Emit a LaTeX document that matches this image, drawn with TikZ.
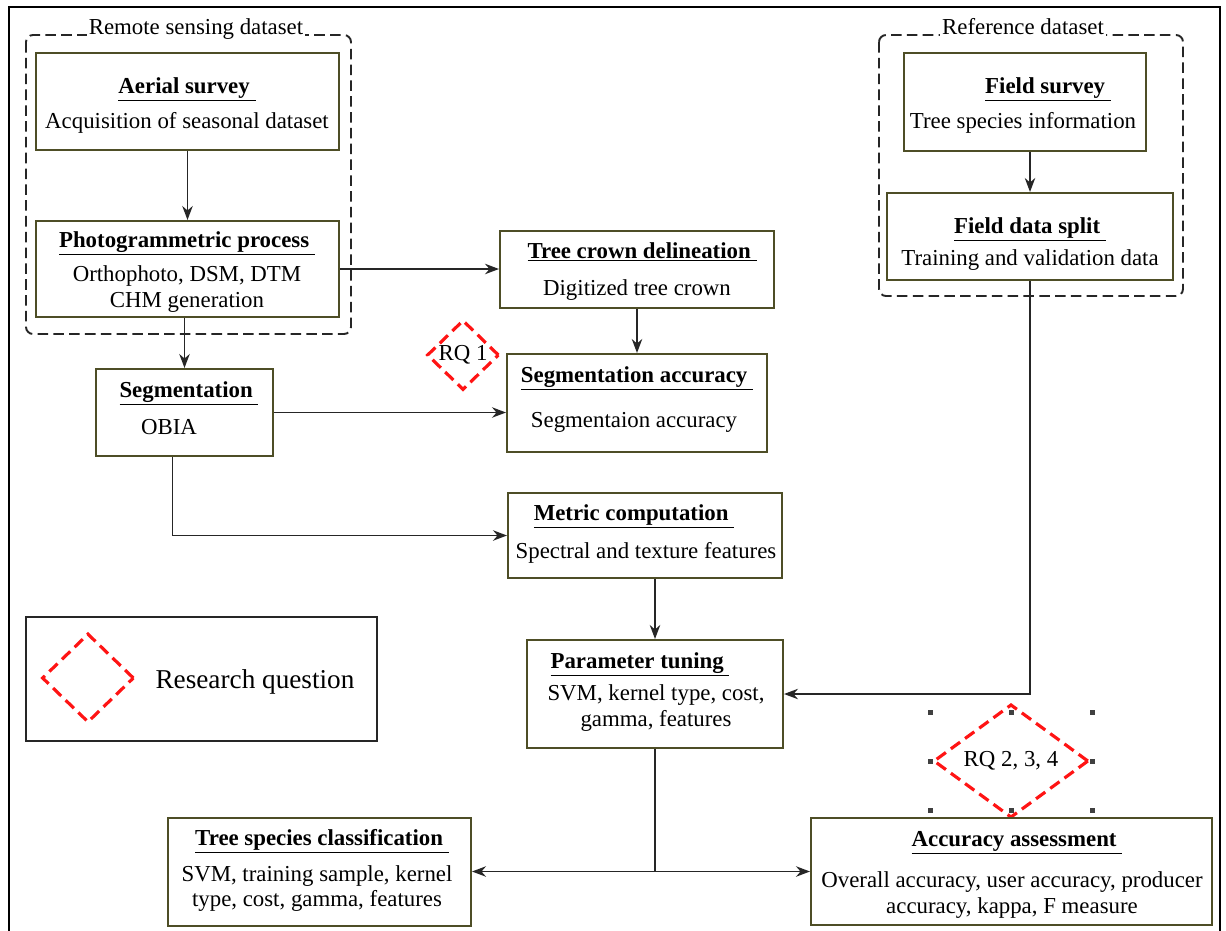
\documentclass[tikz,border=0pt]{standalone}
\usepackage{fontspec}
\setmainfont{Liberation Serif}
\usetikzlibrary{arrows.meta,shapes.geometric}
\definecolor{boxline}{RGB}{78,78,38}
\definecolor{rqred}{RGB}{255,20,20}
\newcommand{\headline}[1]{\underline{#1~}}
\tikzset{
flowbox/.style={
  draw=boxline,
  line width=1.2pt,
  fill=white,
  inner sep=0pt
},
boxtitle/.style={
  anchor=base,
  inner sep=0pt,
  font=\fontsize{13}{15}\selectfont\bfseries
},
boxtext/.style={
  inner sep=0pt,
  align=center,
  font=\fontsize{13}{14.6}\selectfont
},
groupbox/.style={
  draw=black!85,
  line width=1.1pt,
  dash pattern=on 6pt off 3pt,
  rounded corners=4pt
},
grouplabel/.style={
  anchor=base,
  fill=white,
  inner sep=1pt,
  font=\fontsize{13}{15}\selectfont
},
rqmark/.style={
  shape=diamond,
  draw=rqred,
  line width=1.8pt,
  dash pattern=on 6.5pt off 3.5pt,
  inner sep=0pt,
  font=\fontsize{13}{15}\selectfont
},
flowline/.style={
  line width=0.8pt,
  draw=black!85
},
flowarrow/.style={
  -{Stealth[length=2.8mm,width=2.1mm]},
  line width=0.8pt,
  draw=black!85
}
}

\begin{document}
\begin{tikzpicture}[x=0.02cm,y=-0.02cm]
\useasboundingbox (0,0) rectangle (1226,930);
\draw[line width=1.4pt] (9,960) -- (9,7) -- (1220,7) -- (1220,960);

\draw[groupbox] (26,35) rectangle (351,334);
\node[grouplabel] (rslabel) at (196,34) {Remote sensing dataset};
\draw[groupbox] (879,35) rectangle (1183,296);
\node[grouplabel] (reflabel) at (1023,34) {Reference dataset};

\node[flowbox, minimum width=6.06cm, minimum height=1.94cm] (aerial) at (187.5,101.5) {};
\node[boxtitle] (aerialT) at (187,93) {\headline{Aerial survey}};
\node[boxtext, anchor=base] (aerialB) at (187,128) {Acquisition of seasonal dataset};

\node[flowbox, minimum width=6.06cm, minimum height=1.92cm] (photo) at (187.5,269) {};
\node[boxtitle] (photoT) at (187,247) {\headline{Photogrammetric process}};
\node[boxtext] (photoB) at (187,289) {Orthophoto, DSM, DTM\\CHM generation};

\node[flowbox, minimum width=5.48cm, minimum height=1.54cm] (crown) at (637,269.5) {};
\node[boxtitle] (crownT) at (642,258) {\headline{Tree crown delineation}};
\node[boxtext, anchor=base] (crownB) at (637,295) {Digitized tree crown};

\node[flowbox, minimum width=3.54cm, minimum height=1.74cm] (seg) at (184.5,412.5) {};
\node[boxtitle] (segT) at (189,397) {\headline{Segmentation}};
\node[boxtext, anchor=base] (segB) at (169,434) {OBIA};

\node[flowbox, minimum width=5.2cm, minimum height=1.96cm] (segacc) at (637,403) {};
\node[boxtitle] (segaccT) at (637,382) {\headline{Segmentation accuracy}};
\node[boxtext, anchor=base] (segaccB) at (634,427) {Segmentaion accuracy};

\node[rqmark, minimum width=1.44cm, minimum height=1.4cm] (rq1) at (463,355) {RQ 1};

\node[flowbox, minimum width=5.48cm, minimum height=1.7cm] (metric) at (645,535.5) {};
\node[boxtitle] (metricT) at (634,520) {\headline{Metric computation}};
\node[boxtext, anchor=base] (metricB) at (646,558) {Spectral and texture features};

\node[flowbox, minimum width=5.12cm, minimum height=2.16cm] (param) at (655,694) {};
\node[boxtitle] (paramT) at (640,668) {\headline{Parameter tuning}};
\node[boxtext] (paramB) at (656,708) {SVM, kernel type, cost,\\gamma, features};

\node[draw=black!85, line width=1.3pt, minimum width=7.02cm, minimum height=2.48cm] (legend) at (201.5,679) {};
\node[rqmark, minimum width=1.84cm, minimum height=1.78cm] (legendrq) at (88,678) {};
\node[anchor=base, inner sep=0pt, font=\fontsize{15.5}{18}\selectfont] (legendT) at (255,688) {Research question};

\node[flowbox, minimum width=6.06cm, minimum height=2.16cm] (species) at (319.5,872) {};
\node[boxtitle] (speciesT) at (322,845) {\headline{Tree species classification}};
\node[boxtext] (speciesB) at (317,888.5) {SVM, training sample, kernel\\type, cost, gamma, features};

\node[inner sep=0pt, minimum width=3.22cm, minimum height=1.94cm] (rqsel) at (1011.5,761.5) {};
\foreach \a in {north west,north,north east,east,south east,south,south west,west}
  \fill[black!75] (rqsel.\a) +(-2.6,-2.6) rectangle +(2.6,2.6);
\node[rqmark, minimum width=3.1cm, minimum height=1.76cm] (rq2) at (1011,761) {RQ 2, 3, 4};

\node[flowbox, minimum width=8.02cm, minimum height=2.14cm] (accuracy) at (1011.5,871.5) {};
\node[boxtitle] (accuracyT) at (1017,846) {\headline{Accuracy assessment}};
\node[boxtext] (accuracyB) at (1012,895) {Overall accuracy, user accuracy, producer\\accuracy, kappa, F measure};

\node[flowbox, minimum width=4.84cm, minimum height=1.96cm] (fsurvey) at (1025,102) {};
\node[boxtitle] (fsurveyT) at (1048,93) {\headline{Field survey}};
\node[boxtext, anchor=base] (fsurveyB) at (1023,128) {Tree species information};

\node[flowbox, minimum width=5.72cm, minimum height=1.74cm] (fsplit) at (1030,236.5) {};
\node[boxtitle] (fsplitT) at (1030,233) {\headline{Field data split}};
\node[boxtext, anchor=base] (fsplitB) at (1030,265) {Training and validation data};

\coordinate (fork) at (param.south |- accuracy.west);

\draw[flowarrow] (aerial.south) -- (photo.north);
\draw[flowarrow] (photo.east) -- (photo.east -| crown.west);
\draw[flowarrow] (photo.south -| seg.north) -- (seg.north);
\draw[flowarrow] (crown.south) -- (segacc.north);
\draw[flowarrow] (seg.east) -- (seg.east -| segacc.west);
\draw[flowarrow] ([xshift=-0.236cm]seg.south) |- (metric.west);
\draw[flowarrow] (param.north |- metric.south) -- (param.north);
\draw[flowarrow] (fsplit.north |- fsurvey.south) -- (fsplit.north);
\draw[flowarrow] (fsplit.south) |- (param.east);
\draw[flowline] (param.south) -- (fork);
\draw[flowarrow] (fork) -- (fork -| species.east);
\draw[flowarrow] (fork) -- (accuracy.west);

\end{tikzpicture}
\end{document}
